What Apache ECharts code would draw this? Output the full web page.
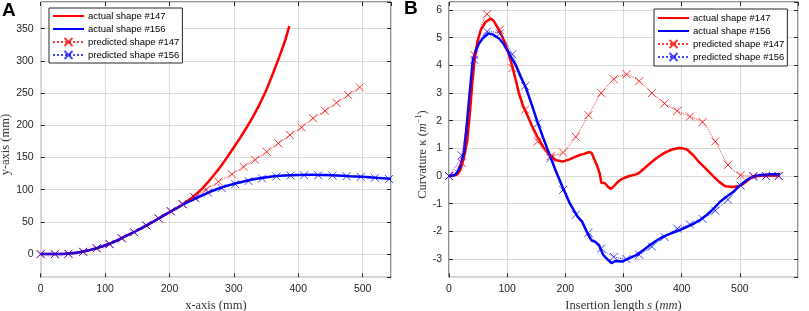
<!DOCTYPE html>
<html>
<head>
<meta charset="utf-8">
<title>shape / curvature</title>
<script src="https://cdn.jsdelivr.net/npm/echarts@6/dist/echarts.min.js"></script>
<style>
	html, body { margin: 0; padding: 0; background: #fff; }
	#main { width: 809px; height: 311px; }
</style>
</head>
<body>
<div id="main"></div>
<script>
	// ---- panel A : shape (x, y) in mm ----
	var actual147A = [[0, 0], [20, 0], [45, 1], [66, 4], [87, 9.3], [108, 16.5], [128, 26], [149, 36.3], [170, 47.7], [190, 59.3], [211, 71.2], [230, 84], [240, 92], [250, 101], [260, 112], [270, 124], [280, 137], [290, 151], [300, 166], [310, 181], [320, 197], [330, 214], [340, 233], [350, 254], [360, 279], [370, 305], [380, 333], [386, 354]];
	var actual156A = [[0, 0], [20, 0], [45, 1], [66, 4], [87, 9.3], [108, 16.5], [128, 26], [149, 36.3], [170, 47.7], [190, 59.3], [211, 71.2], [232, 82.5], [252, 91.8], [273, 100.7], [294, 107.5], [315, 112.8], [335, 117], [356, 120], [378, 122], [400, 123], [420, 123.2], [440, 122.8], [460, 122], [480, 121], [500, 120], [520, 118.7], [544, 117]];
	var predicted147A = [[0, 0], [22, 0], [43, 0.5], [66, 3.5], [87, 9], [107, 15.5], [126, 24.5], [145, 34], [164, 44.5], [183, 55.5], [202, 66.5], [220, 77.5], [238, 89], [257, 100.5], [276, 112.5], [297, 124], [315, 135.5], [333, 146.5], [351, 159], [369, 172], [387, 185], [405, 197], [423, 211], [441.5, 222.5], [459.5, 235], [477.5, 247], [495.5, 259]];
	var predicted156A = [[0, 0], [22, 0], [43, 0.5], [66, 3.5], [87, 9], [107, 15.5], [126, 24.5], [145, 34], [164, 44.5], [183, 55.5], [202, 66.5], [221, 77.5], [240, 87], [260, 95.5], [281, 102.5], [302, 108.5], [323, 113.5], [344, 117.5], [366, 120.5], [388, 122], [409, 122.5], [431, 122.5], [453, 122], [475, 121], [497, 120], [519, 118.5], [541, 116.5]];

	// ---- panel B : curvature along insertion length ----
	var actual147B = [[0, 0], [8, 0.02], [14, 0.05], [19, 0.2], [23, 0.46], [27, 0.8], [31.5, 1.3], [36, 2.3], [40, 3.35], [44, 4.2], [48.7, 4.85], [55, 5.3], [63, 5.57], [71.6, 5.69], [77, 5.6], [83, 5.39], [90, 5.1], [97.4, 4.75], [103, 4.4], [109, 3.95], [115, 3.45], [120, 3.0], [127, 2.55], [134.7, 2.2], [143, 1.8], [152, 1.42], [162, 1.05], [172, 0.8], [183, 0.58], [195, 0.52], [207, 0.6], [218, 0.7], [225, 0.76], [232, 0.8], [240, 0.86], [245, 0.84], [250, 0.6], [255, 0.35], [259, 0.1], [262, -0.24], [265, -0.2], [268, -0.26], [273, -0.38], [278, -0.47], [283, -0.38], [288, -0.26], [294, -0.15], [300, -0.08], [310, 0.0], [320, 0.05], [326, 0.1], [336, 0.28], [346, 0.46], [357, 0.65], [369, 0.82], [382, 0.95], [395, 1.01], [402, 1.0], [409, 0.96], [420, 0.75], [430, 0.5], [438, 0.34], [447, 0.15], [455, -0.02], [465, -0.22], [475, -0.37], [488, -0.4], [501, -0.35], [510, -0.22], [518, -0.08], [530, 0.0], [545, 0.02], [566, 0.02]];
	var actual156B = [[0, 0], [8, 0.03], [12, 0.08], [16, 0.2], [20, 0.4], [25.8, 0.88], [30, 1.7], [35, 2.9], [41, 4.19], [46, 4.55], [51.6, 4.79], [58, 4.98], [67.6, 5.15], [75, 5.12], [86, 4.97], [93, 4.8], [100, 4.55], [108, 4.25], [115, 4.0], [123, 3.6], [132, 3.2], [142, 2.6], [152, 1.96], [162, 1.38], [172, 0.82], [183, 0.22], [195, -0.39], [208, -1.0], [221, -1.47], [229, -1.65], [238, -2.07], [245, -2.33], [251, -2.37], [258, -2.5], [265, -2.85], [272, -3.0], [279.6, -3.15], [286, -3.07], [297, -3.09], [305, -3.02], [314, -2.93], [322.6, -2.85], [334, -2.68], [345.5, -2.49], [357, -2.33], [368.4, -2.19], [383, -2.06], [397, -1.95], [408, -1.85], [420, -1.73], [432, -1.58], [443, -1.41], [455, -1.18], [466, -0.93], [477, -0.75], [488.8, -0.57], [497, -0.4], [506, -0.24], [515, -0.1], [523, -0.02], [535, 0.04], [550, 0.06], [569, 0.06]];
	// marker positions (s) shared by both predicted curves
	var markS = [0, 21.8, 43.6, 65.4, 87.2, 109, 130.8, 152.6, 174.4, 196.2, 218, 239.8, 261.6, 283.4, 305.2, 327, 348.8, 370.6, 392.4, 414.2, 436, 457.8, 479.6, 501.4, 523.2, 545, 566.8];
	var predicted147B = [0, 0.48, 4.37, 5.85, 5.28, 3.9, 2.4, 1.25, 0.72, 0.85, 1.42, 2.2, 3.0, 3.5, 3.68, 3.43, 3.0, 2.62, 2.35, 2.15, 1.95, 1.25, 0.4, 0.03, 0.0, 0.0, 0.0];
	var predicted156B = [0, 0.75, 4.2, 5.22, 5.15, 4.4, 3.25, 1.9, 0.65, -0.5, -1.4, -2.05, -2.62, -2.92, -3.0, -2.85, -2.55, -2.2, -1.9, -1.75, -1.55, -1.25, -0.85, -0.35, -0.02, 0.0, 0.0];

	var names = ['actual shape #147', 'actual shape #156', 'predicted shape #147', 'predicted shape #156'];

	var SANS = "'Liberation Sans', Arial, sans-serif";
	var SERIF = "'Liberation Serif', 'Times New Roman', serif";
	var AX = '#262626';
	var GRIDC = '#d9d9d9';
	var XMARK = 'path://M0,0L10,10M10,0L0,10';

	function zip(xs, ys) {
		var out = [];
		for (var i = 0; i < ys.length; i++) out.push([xs[i], ys[i]]);
		return out;
	}

	// main axis (labels + grid) / mirror axis (ticks only, top & right)
	function mainAxis(o) {
		var a = {
			type: 'value',
			gridIndex: o.grid,
			position: o.pos,
			min: o.min,
			max: o.max,
			axisLine: { show: false, onZero: false },
			axisTick: { show: true, inside: true, length: 4, lineStyle: { color: AX } },
			axisLabel: {
				margin: o.margin,
				color: AX,
				fontSize: 10.5,
				fontFamily: SANS,
				showMinLabel: o.showMin,
				showMaxLabel: false
			},
			splitLine: { show: true, lineStyle: { color: GRIDC, width: 1, type: 'solid' } },
			name: o.name,
			nameLocation: 'middle',
			nameGap: o.gap,
			nameTextStyle: o.nameStyle
		};
		if (o.step != null) {
			// ticks from the nice step, min itself is not on the step
			a.minInterval = o.step;
			a.maxInterval = o.step;
		} else {
			a.interval = o.interval;
		}
		return a;
	}

	function mirrorAxis(o) {
		var a = {
			type: 'value',
			gridIndex: o.grid,
			position: o.pos,
			min: o.min,
			max: o.max,
			axisLine: { show: false, onZero: false },
			axisTick: { show: true, inside: true, length: 4, lineStyle: { color: AX } },
			axisLabel: { show: false },
			splitLine: { show: false }
		};
		if (o.step != null) {
			a.minInterval = o.step;
			a.maxInterval = o.step;
		} else {
			a.interval = o.interval;
		}
		return a;
	}

	var nameRich = {
		n: { fontFamily: SERIF, fontSize: 12.5, color: '#333', lineHeight: 15 },
		i: { fontFamily: SERIF, fontSize: 12.5, fontStyle: 'italic', color: '#333', lineHeight: 15 },
		sup: { fontFamily: SERIF, fontSize: 8, color: '#333', verticalAlign: 'top', lineHeight: 15 }
	};

	var xA = { grid: 0, pos: 'bottom', min: 0, max: 544, interval: 100, margin: 6, showMin: true, name: 'x-axis (mm)', gap: 15,
		nameStyle: { fontFamily: SERIF, fontSize: 12.5, color: '#333' } };
	var yA = { grid: 0, pos: 'left', min: -36, max: 391.5, step: 50, margin: 7, showMin: false, name: 'y-axis (mm)', gap: 26,
		nameStyle: { fontFamily: SERIF, fontSize: 12.5, color: '#333', padding: [0, 10, 0, 0] } };
	var xB = { grid: 1, pos: 'bottom', min: 0, max: 600, interval: 100, margin: 6, showMin: true,
		name: '{n|Insertion length }{i|s}{n| (}{i|mm}{n|)}', gap: 15,
		nameStyle: { rich: nameRich } };
	var yB = { grid: 1, pos: 'left', min: -3.66, max: 6.29, step: 1, margin: 7, showMin: false,
		name: '{n|Curvature κ (}{i|m}{sup|−1}{n|)}', gap: 17,
		nameStyle: { rich: nameRich, padding: [0, 30, 0, 0] } };

	var xAxisArr = [mainAxis(xA), mirrorAxis({ grid: 0, pos: 'top', min: 0, max: 544, interval: 100 }),
		mainAxis(xB), mirrorAxis({ grid: 1, pos: 'top', min: 0, max: 600, interval: 100 })];
	var yAxisArr = [mainAxis(yA), mirrorAxis({ grid: 0, pos: 'right', min: -36, max: 391.5, step: 50 }),
		mainAxis(yB), mirrorAxis({ grid: 1, pos: 'right', min: -3.66, max: 6.29, step: 1 })];

	function actualSeries(name, color, data, xi, yi, smooth) {
		// symbol kept but transparent, so the legend icon is a plain line
		return {
			type: 'line', name: name, data: data,
			xAxisIndex: xi, yAxisIndex: yi,
			symbol: 'circle', showSymbol: false, smooth: smooth, silent: true,
			lineStyle: { color: color, width: 2.5 },
			itemStyle: { color: 'rgba(0,0,0,0)', borderWidth: 0 }
		};
	}

	function predictedSeries(name, color, data, xi, yi) {
		return {
			type: 'line', name: name, data: data,
			xAxisIndex: xi, yAxisIndex: yi,
			symbol: XMARK, symbolSize: 8, showSymbol: true, showAllSymbol: true,
			smooth: 0.2, silent: true,
			lineStyle: { color: color, width: 1, type: 'dotted' },
			itemStyle: { color: color, borderColor: color, borderWidth: 1 }
		};
	}

	var RED = '#ff0000', BLUE = '#0000ff';
	var RED2 = 'rgba(255,0,0,0.78)', BLUE2 = 'rgba(0,0,255,0.72)';

	var series = [
		actualSeries(names[0], RED, actual147A, 0, 0, 0.3),
		actualSeries(names[1], BLUE, actual156A, 0, 0, 0.3),
		predictedSeries(names[2], RED2, predicted147A, 0, 0),
		predictedSeries(names[3], BLUE2, predicted156A, 0, 0),
		actualSeries(names[0], RED, actual147B, 2, 2, false),
		actualSeries(names[1], BLUE, actual156B, 2, 2, false),
		predictedSeries(names[2], RED2, zip(markS, predicted147B), 2, 2),
		predictedSeries(names[3], BLUE2, zip(markS, predicted156B), 2, 2)
	];

	function legendBox(left, top, pad) {
		return {
			data: names,
			orient: 'vertical',
			left: left,
			top: top,
			padding: pad,
			itemGap: 3,
			itemWidth: 31,
			itemHeight: 10,
			backgroundColor: '#fff',
			borderColor: AX,
			borderWidth: 1,
			selectedMode: false,
			textStyle: { fontFamily: SANS, fontSize: 9.5, color: '#000', padding: [0, 0, 0, -1] }
		};
	}

	var option = {
		animation: false,
		backgroundColor: '#fff',
		title: [
			{ text: 'A', left: 2, top: 1, padding: 0, textStyle: { fontFamily: SANS, fontSize: 19, fontWeight: 'bold', color: '#000' } },
			{ text: 'B', left: 404, top: -1, padding: 0, textStyle: { fontFamily: SANS, fontSize: 19, fontWeight: 'bold', color: '#000' } }
		],
		legend: [legendBox(49, 8, [3, 3, 3, 3]), legendBox(654, 9, [4, 3, 4, 3])],
		grid: [
			{ left: 40.7, top: 2, width: 350.3, height: 275.3, show: true, borderColor: AX, borderWidth: 1, backgroundColor: 'transparent', outerBoundsMode: 'none' },
			{ left: 449, top: 2, width: 349, height: 275.3, show: true, borderColor: AX, borderWidth: 1, backgroundColor: 'transparent', outerBoundsMode: 'none' }
		],
		xAxis: xAxisArr,
		yAxis: yAxisArr,
		series: series
	};

	var myChart = echarts.init(document.getElementById('main'), null, { renderer: 'canvas' });
	myChart.setOption(option);
</script>
</body>
</html>
